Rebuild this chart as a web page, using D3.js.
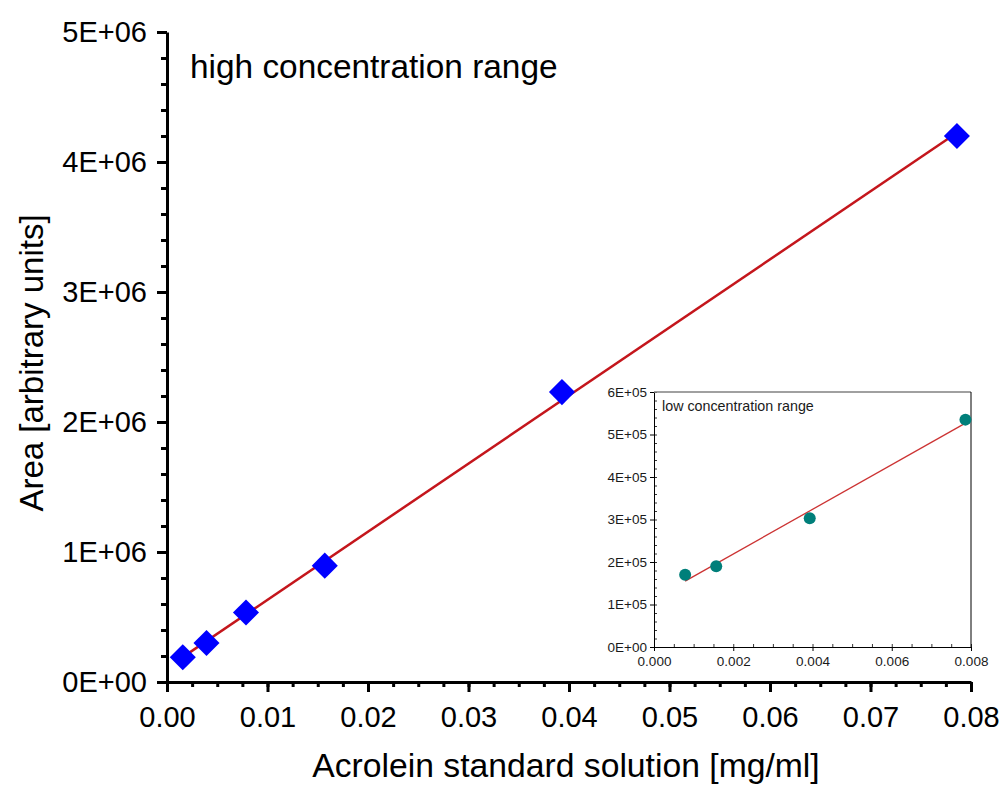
<!DOCTYPE html>
<html>
<head>
<meta charset="utf-8">
<script src="https://cdn.jsdelivr.net/npm/d3@7"></script>
<style>
  body { margin: 0; background: #fff; }
  text { font-family: "Liberation Sans", Arial, sans-serif; }
</style>
</head>
<body>
<div id="chart"></div>
<script>
// high concentration range (main plot)
var highConc = [0.00157, 0.00393, 0.00786, 0.0157, 0.0393, 0.0786];
var highArea = [190000, 300000, 535000, 895000, 2230000, 4200000];
// low concentration range (inset)
var lowConc = [0.000786, 0.00157, 0.00393, 0.00786];
var lowArea = [170000, 190000, 303000, 535000];

var xTicks = [0, 0.01, 0.02, 0.03, 0.04, 0.05, 0.06, 0.07, 0.08];
var xTickLabels = ["0.00", "0.01", "0.02", "0.03", "0.04", "0.05", "0.06", "0.07", "0.08"];
var yTicks = [0, 1e6, 2e6, 3e6, 4e6, 5e6];
var yTickLabels = ["0E+00", "1E+06", "2E+06", "3E+06", "4E+06", "5E+06"];
var insetXTicks = [0, 0.002, 0.004, 0.006, 0.008];
var insetXTickLabels = ["0.000", "0.002", "0.004", "0.006", "0.008"];
var insetYTicks = [0, 1e5, 2e5, 3e5, 4e5, 5e5, 6e5];
var insetYTickLabels = ["0E+00", "1E+05", "2E+05", "3E+05", "4E+05", "5E+05", "6E+05"];

var width = 1006, height = 789;

var svg = d3.select("#chart")
  .append("svg")
  .attr("width", width)
  .attr("height", height);

svg.append("rect").attr("width", width).attr("height", height).attr("fill", "#fff");

// least squares fit, same as the calibration line
function linFit(xs, ys) {
  var mx = d3.mean(xs), my = d3.mean(ys);
  var sxy = d3.sum(xs, function(d, i) { return (d - mx) * (ys[i] - my); });
  var sxx = d3.sum(xs, function(d) { return (d - mx) * (d - mx); });
  var b = sxy / sxx;
  return { slope: b, icept: my - b * mx };
}

// ---------- main plot ----------
var x = d3.scaleLinear().domain([0, 0.08]).range([167, 971]);
var y = d3.scaleLinear().domain([0, 5e6]).range([682, 32]);

function minorTicks(step, max) {
  return d3.range(0, max + step / 2, step);
}

// minor ticks
svg.append("g")
  .attr("transform", "translate(0,682)")
  .call(d3.axisBottom(x).tickValues(minorTicks(0.0025, 0.08)).tickSize(5).tickFormat(""))
  .call(function(g) { g.select(".domain").remove(); g.selectAll("line").attr("stroke-width", 3); });
svg.append("g")
  .attr("transform", "translate(167,0)")
  .call(d3.axisLeft(y).tickValues(minorTicks(2e5, 5e6)).tickSize(6).tickFormat(""))
  .call(function(g) { g.select(".domain").remove(); g.selectAll("line").attr("stroke-width", 3); });

// major axes
var xAxis = svg.append("g")
  .attr("transform", "translate(0,682)")
  .call(d3.axisBottom(x).tickValues(xTicks).tickSize(10).tickSizeOuter(0).tickPadding(14)
    .tickFormat(function(d, i) { return xTickLabels[i]; }));
var yAxis = svg.append("g")
  .attr("transform", "translate(167,0)")
  .call(d3.axisLeft(y).tickValues(yTicks).tickSize(10).tickSizeOuter(0).tickPadding(10)
    .tickFormat(function(d, i) { return yTickLabels[i]; }));

[xAxis, yAxis].forEach(function(g) {
  g.select(".domain").attr("stroke-width", 3);
  g.selectAll("line").attr("stroke-width", 3);
  g.selectAll("text").attr("font-size", 29).attr("fill", "#000")
    .attr("font-family", "'Liberation Sans', Arial, sans-serif");
});

// fit line
var fitHigh = linFit(highConc, highArea);
var hx = d3.extent(highConc);
svg.append("path")
  .datum(hx)
  .attr("fill", "none")
  .attr("stroke", "#c4161c")
  .attr("stroke-width", 2.5)
  .attr("d", d3.line()
    .x(function(d) { return x(d); })
    .y(function(d) { return y(fitHigh.icept + fitHigh.slope * d); }));

// diamonds
svg.append("g")
  .selectAll("path")
  .data(highConc)
  .enter()
  .append("path")
  .attr("d", d3.symbol().type(d3.symbolSquare).size(340))
  .attr("transform", function(d, i) { return "translate(" + x(d) + "," + y(highArea[i]) + ") rotate(45)"; })
  .attr("fill", "#0000ff");

svg.append("text")
  .attr("x", 190)
  .attr("y", 78)
  .attr("font-size", 33.4)
  .text("high concentration range");

svg.append("text")
  .attr("x", 566)
  .attr("y", 777)
  .attr("text-anchor", "middle")
  .attr("font-size", 33.7)
  .text("Acrolein standard solution [mg/ml]");

svg.append("text")
  .attr("transform", "translate(43,363) rotate(-90)")
  .attr("text-anchor", "middle")
  .attr("font-size", 33)
  .text("Area [arbitrary units]");

// ---------- inset ----------
var ix = d3.scaleLinear().domain([0, 0.008]).range([654, 971]);
var iy = d3.scaleLinear().domain([0, 6e5]).range([647, 392]);

svg.append("rect")
  .attr("x", 654).attr("y", 392).attr("width", 317).attr("height", 255)
  .attr("fill", "#fff");

// inner minor ticks
svg.append("g")
  .attr("transform", "translate(0,647)")
  .call(d3.axisTop(ix).tickValues(minorTicks(0.0005, 0.008)).tickSize(3).tickFormat(""))
  .call(function(g) { g.select(".domain").remove(); g.selectAll("line").attr("stroke", "#333"); });
svg.append("g")
  .attr("transform", "translate(654,0)")
  .call(d3.axisRight(iy).tickValues(minorTicks(2e4, 6e5)).tickSize(3).tickFormat(""))
  .call(function(g) { g.select(".domain").remove(); g.selectAll("line").attr("stroke", "#333"); });

var ixAxis = svg.append("g")
  .attr("transform", "translate(0,647)")
  .call(d3.axisBottom(ix).tickValues(insetXTicks).tickSize(4).tickSizeOuter(0).tickPadding(5)
    .tickFormat(function(d, i) { return insetXTickLabels[i]; }));
var iyAxis = svg.append("g")
  .attr("transform", "translate(654,0)")
  .call(d3.axisLeft(iy).tickValues(insetYTicks).tickSize(4).tickSizeOuter(0).tickPadding(3)
    .tickFormat(function(d, i) { return insetYTickLabels[i]; }));
[ixAxis, iyAxis].forEach(function(g) {
  g.selectAll("text").attr("font-size", 13.5).attr("fill", "#1a1a1a")
    .attr("font-family", "'Liberation Sans', Arial, sans-serif");
});

// box: top gray, right black
svg.append("line").attr("x1", 654).attr("x2", 971).attr("y1", 392).attr("y2", 392)
  .attr("stroke", "#808080").attr("stroke-width", 1.5);
svg.append("line").attr("x1", 971).attr("x2", 971).attr("y1", 392).attr("y2", 647)
  .attr("stroke", "#000").attr("stroke-width", 1);

var fitLow = linFit(lowConc, lowArea);
svg.append("path")
  .datum(d3.extent(lowConc))
  .attr("fill", "none")
  .attr("stroke", "#cc3333")
  .attr("stroke-width", 1.3)
  .attr("d", d3.line()
    .x(function(d) { return ix(d); })
    .y(function(d) { return iy(fitLow.icept + fitLow.slope * d); }));

svg.append("g")
  .selectAll("circle")
  .data(lowConc)
  .enter()
  .append("circle")
  .attr("cx", function(d) { return ix(d); })
  .attr("cy", function(d, i) { return iy(lowArea[i]); })
  .attr("r", 6)
  .attr("fill", "#007f7a");

svg.append("text")
  .attr("x", 662)
  .attr("y", 411)
  .attr("font-size", 14.3)
  .attr("fill", "#1a1a1a")
  .text("low concentration range");
</script>
</body>
</html>
